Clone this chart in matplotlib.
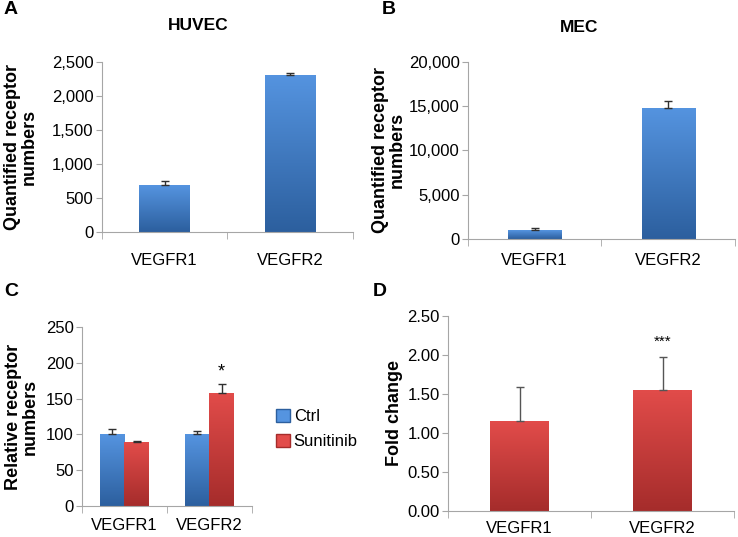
import numpy as np
import matplotlib
matplotlib.use("Agg")
import matplotlib.pyplot as plt
from matplotlib.colors import LinearSegmentedColormap
from matplotlib.ticker import FuncFormatter, MultipleLocator
from matplotlib.patches import Patch

plt.rcParams["font.family"] = ["Liberation Sans", "DejaVu Sans"]

# ---- data ----
receptors = ["VEGFR1", "VEGFR2"]

huvec_vals = [690, 2310]
huvec_err = [60, 30]

mec_vals = [1000, 14800]
mec_err = [200, 800]

ctrl_vals = [100, 100]
ctrl_err = [8, 4]
sun_vals = [89, 158]
sun_err = [2, 12]

fold_vals = [1.15, 1.55]
fold_err = [0.44, 0.42]

BLUE = ("#5594e0", "#2c5f9e")
RED = ("#e24c4a", "#a52c2b")
SPINE = "#a6a6a6"
TICK_FS = 12
LABEL_FS = 13


def gradient_bars(ax, x, heights, width, colors):
    """Excel-ish bars: plain bar then a vertical gradient clipped to it."""
    cmap = LinearSegmentedColormap.from_list("g", [colors[1], colors[0]])
    bars = ax.bar(x, heights, width, color=colors[0], edgecolor="none", zorder=2)
    grad = np.linspace(0, 1, 256).reshape(-1, 1)
    for b in bars:
        x0, y0 = b.get_x(), b.get_y()
        im = ax.imshow(grad, cmap=cmap, origin="lower", aspect="auto",
                       extent=[x0, x0 + b.get_width(), y0, y0 + b.get_height()],
                       zorder=2.1)
        im.set_clip_path(b)
    return bars


def style_axes(ax, ymax, step, fmt, xpad):
    ax.set_xlim(-0.5, len(receptors) - 0.5)
    ax.set_ylim(0, ymax)
    ax.yaxis.set_major_locator(MultipleLocator(step))
    ax.yaxis.set_major_formatter(FuncFormatter(fmt))
    for s in ["top", "right"]:
        ax.spines[s].set_visible(False)
    for s in ["left", "bottom"]:
        ax.spines[s].set_color(SPINE)
    ax.set_xticks(range(len(receptors)))
    ax.set_xticklabels(receptors, fontsize=TICK_FS)
    ax.set_xticks(np.arange(-0.5, len(receptors), 1.0), minor=True)
    ax.tick_params(axis="x", which="major", length=0, pad=xpad)
    ax.tick_params(axis="x", which="minor", length=5, color=SPINE)
    ax.tick_params(axis="y", length=4, color=SPINE, labelsize=TICK_FS, pad=2)


def errbars(ax, x, vals, errs, lw=1.0, color="#303030"):
    ax.errorbar(x, vals, yerr=[np.zeros(len(errs)), errs], fmt="none",
                ecolor=color, elinewidth=lw, capsize=3, capthick=lw, zorder=3)


comma = lambda v, p: f"{v:,.0f}"

fig = plt.figure(figsize=(7.38, 5.37), dpi=100)
x = np.arange(len(receptors))

# ---- A: HUVEC ----
axA = fig.add_axes([0.138, 0.568, 0.340, 0.317])
gradient_bars(axA, x, huvec_vals, 0.4, BLUE)
errbars(axA, x, huvec_vals, huvec_err)
style_axes(axA, 2500, 500, comma, 15)
axA.set_ylabel("Quantified receptor\nnumbers", fontsize=LABEL_FS,
               fontweight="bold", linespacing=1.0)
axA.yaxis.set_label_coords(-0.255, 0.5)

# ---- B: MEC ----
axB = fig.add_axes([0.634, 0.555, 0.362, 0.330])
gradient_bars(axB, x, mec_vals, 0.4, BLUE)
errbars(axB, x, mec_vals, mec_err)
style_axes(axB, 20000, 5000, comma, 10)
axB.set_ylabel("Quantified receptor\nnumbers", fontsize=LABEL_FS,
               fontweight="bold", linespacing=1.0)
axB.yaxis.set_label_coords(-0.232, 0.5)

# ---- C: relative numbers ----
axC = fig.add_axes([0.111, 0.058, 0.230, 0.333])
w = 0.29
gradient_bars(axC, x - w / 2, ctrl_vals, w, BLUE)
gradient_bars(axC, x + w / 2, sun_vals, w, RED)
errbars(axC, x - w / 2, ctrl_vals, ctrl_err)
errbars(axC, x + w / 2, sun_vals, sun_err)
style_axes(axC, 250, 50, lambda v, p: f"{v:.0f}", 8.5)
axC.text(x[1] + w / 2, sun_vals[1] + sun_err[1] + 5, "*", ha="center",
         va="bottom", fontsize=13)
axC.set_ylabel("Relative receptor\nnumbers", fontsize=LABEL_FS,
               fontweight="bold", linespacing=1.0)
axC.yaxis.set_label_coords(-0.253, 0.5)
handles = [Patch(facecolor=BLUE[0], edgecolor=BLUE[1], label="Ctrl"),
           Patch(facecolor=RED[0], edgecolor=RED[1], label="Sunitinib")]
fig.legend(handles=handles, loc="center left", bbox_to_anchor=(0.363, 0.201),
           frameon=False, fontsize=TICK_FS, handlelength=0.8, handleheight=0.8,
           handletextpad=0.25, labelspacing=0.6, borderpad=0)

# ---- D: fold change ----
axD = fig.add_axes([0.607, 0.048, 0.388, 0.364])
gradient_bars(axD, x, fold_vals, 0.41, RED)
errbars(axD, x, fold_vals, fold_err, color="#555555")
style_axes(axD, 2.5, 0.5, lambda v, p: f"{v:.2f}", 7)
axD.text(x[1], 2.08, "***", ha="center", va="bottom", fontsize=11)
axD.set_ylabel("Fold change", fontsize=LABEL_FS, fontweight="bold")
axD.yaxis.set_label_coords(-0.157, 0.5)

# ---- titles and panel letters ----
fig.text(198 / 738, 1 - 25 / 537, "HUVEC", ha="center", va="center",
         fontsize=12.5, fontweight="bold")
fig.text(579 / 738, 1 - 27 / 537, "MEC", ha="center", va="center",
         fontsize=12.5, fontweight="bold")
for lbl, px, py in [("A", 4, 10), ("B", 382, 9), ("C", 4, 292), ("D", 373, 292)]:
    fig.text(px / 738, 1 - py / 537, lbl, ha="left", va="center",
             fontsize=14, fontweight="bold")

fig.savefig("out.png", dpi=100)
